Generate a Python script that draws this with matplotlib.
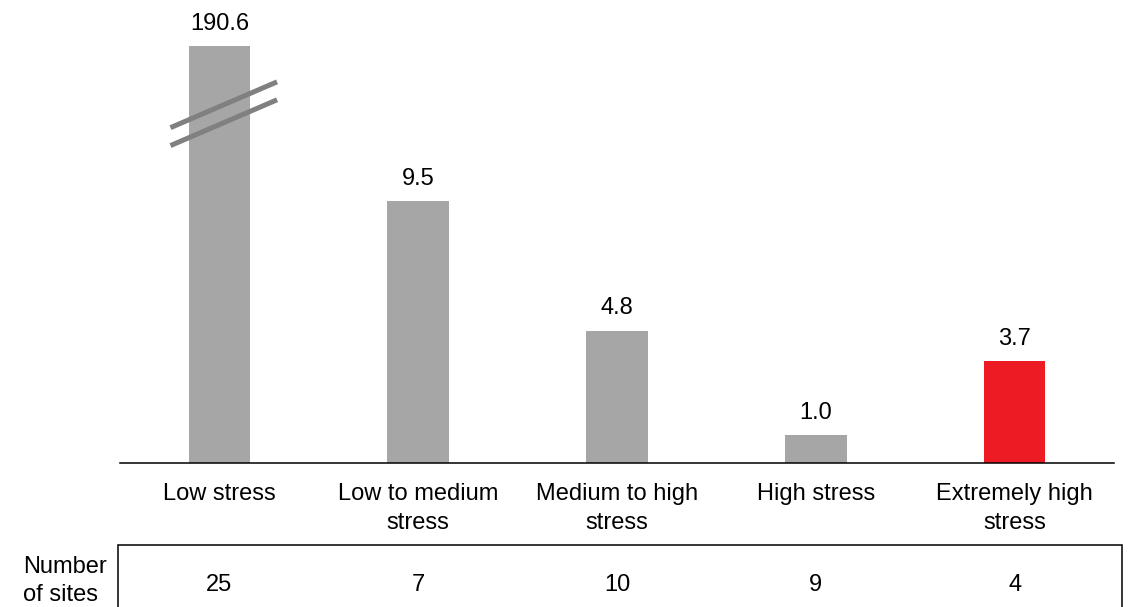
import matplotlib.pyplot as plt
import matplotlib.transforms as mtransforms
from matplotlib.patches import Rectangle

plt.rcParams['font.family'] = ['Liberation Sans', 'DejaVu Sans']
fs = 17

# data
categories = ['Low stress', 'Low to medium\nstress', 'Medium to high\nstress',
              'High stress', 'Extremely high\nstress']
values = [190.6, 9.5, 4.8, 1.0, 3.7]
sites = [25, 7, 10, 9, 4]
colors = ['#a6a6a6', '#a6a6a6', '#a6a6a6', '#a6a6a6', '#ed1c24']

# the first bar is far off scale, so it is cut and drawn with a break mark
cap = 15.1
shown = [min(v, cap) for v in values]

W, H = 1129, 607
fig = plt.figure(figsize=(W / 100, H / 100), dpi=100)
ax = fig.add_axes([120 / W, (H - 463) / H, 994 / W, 463 / H])

x = list(range(len(values)))
ax.bar(x, shown, width=0.31, color=colors)
ax.set_xlim(-0.5, 4.5)
ax.set_ylim(0, 463 / 27.6)

for i, (v, s) in enumerate(zip(values, shown)):
    ax.annotate('%.1f' % v, (i, s), xytext=(0, 8), textcoords='offset points',
                ha='center', va='bottom', fontsize=fs)

# break mark across the first bar
bx0, bx1 = -0.246, 0.29
by = 12.15
slope = 1.66
for off in (0.0, -0.65):
    ax.plot([bx0, bx1], [by + off, by + off + slope], color='#808080', lw=3.6,
            solid_capstyle='butt', clip_on=False)

for sp in ['top', 'right', 'left']:
    ax.spines[sp].set_visible(False)
ax.spines['bottom'].set_linewidth(1.1)
ax.set_yticks([])
ax.set_xticks(x)
ax.set_xticklabels(categories, fontsize=fs, linespacing=1.38)
ax.tick_params(axis='x', length=0, pad=14.5)

# number of sites row
trans = mtransforms.blended_transform_factory(ax.transData, fig.transFigure)
for i, n in enumerate(sites):
    ax.text(i, 1 - 585 / H, str(n), transform=trans, ha='center', va='center',
            fontsize=fs)
fig.text(23 / W, 1 - 581 / H, 'Number\nof sites', ha='left', va='center',
         fontsize=fs, linespacing=1.38)
box = Rectangle((118 / W, -0.1), (1122 - 118) / W, 0.1 + 1 - 545 / H,
                transform=fig.transFigure, fill=False, ec='black', lw=1.1)
fig.add_artist(box)

plt.savefig('out.png', dpi=100, facecolor='w')
